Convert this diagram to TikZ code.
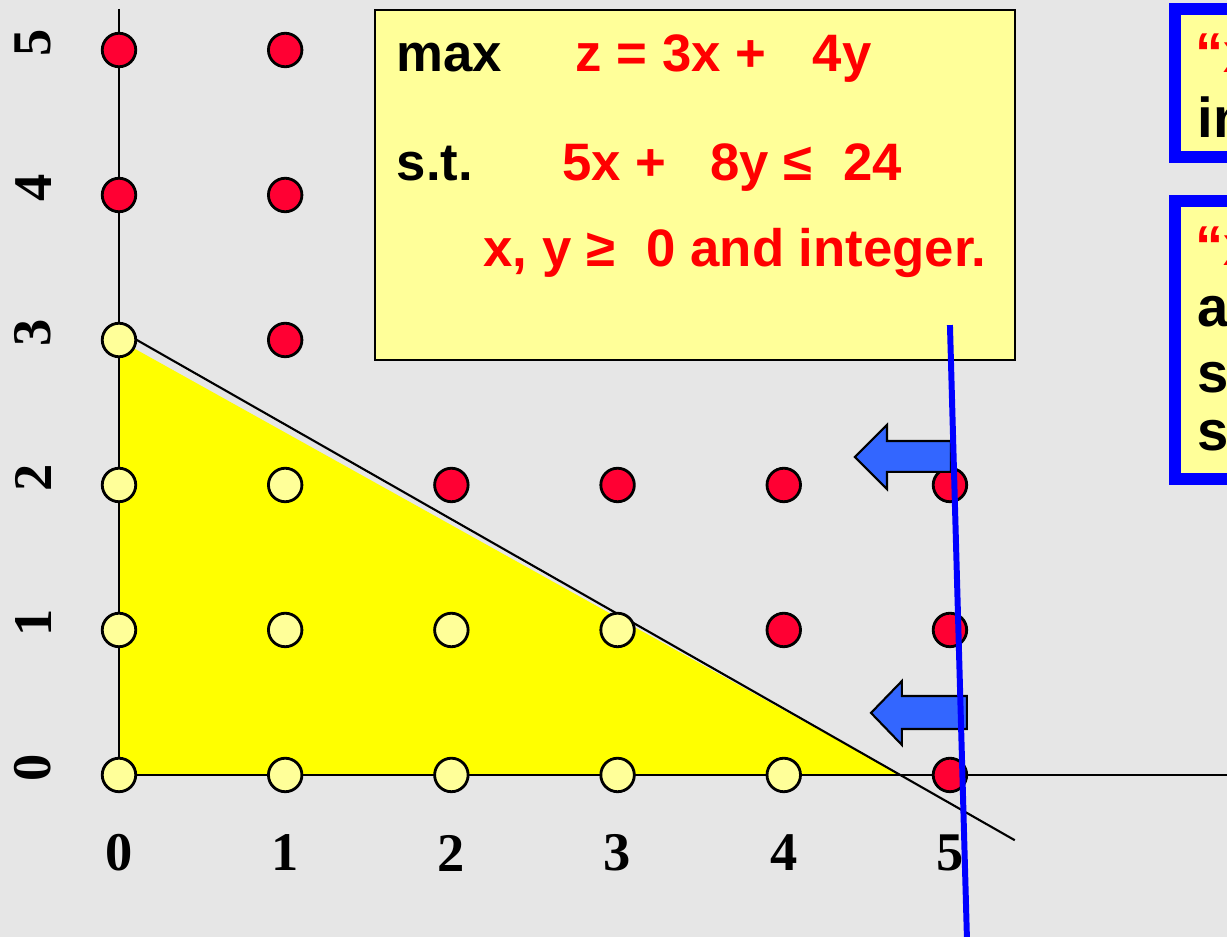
\documentclass[tikz,border=0pt]{standalone}
\usepackage{fontspec}
\setmainfont{Liberation Serif}
\newfontfamily\slidefont{Liberation Sans}
\usepackage{tikz}
\definecolor{SlideGray}{RGB}{230,230,230}
\definecolor{PaleYellow}{RGB}{255,255,153}
\definecolor{HullYellow}{RGB}{255,255,0}
\definecolor{DotRed}{RGB}{255,0,51}
\definecolor{PushBlue}{RGB}{51,102,255}
\tikzset{
  pt/.style={circle, draw=black, line width=0.8pt, fill=#1, minimum size=3.35mm, inner sep=0pt},
  ticklabel/.style={font=\bfseries\fontsize{15.5}{18}\selectfont, inner sep=0pt},
  lptext/.style={font=\slidefont\bfseries\fontsize{15}{18}\selectfont, anchor=base west, inner sep=0pt},
  notetext/.style={font=\slidefont\bfseries\fontsize{16}{19}\selectfont, anchor=base west, inner sep=0pt},
  pusharrow/.style={fill=PushBlue, draw=black, line width=0.6pt, line join=miter},
  notebox/.style={draw=blue, line width=1.2mm, fill=PaleYellow}
}

\begin{document}
\begin{tikzpicture}[x=1.662cm, y=1.45cm]
        \path[fill=SlideGray, use as bounding box] (-0.716,-1.117) rectangle (6.667,5.345);
        \clip (-0.716,-1.117) rectangle (6.667,5.345);
        % integer hull region and constraint 5x+8y<=24
        \fill[HullYellow] (0,0) -- (0,3) -- (4.70,0) -- cycle;
        \draw[line width=0.6pt] (0,5.283) -- (0,0) -- (7,0);
        \draw[line width=0.6pt] (0,3.07) -- (5.39,-0.45);
        % lattice points
        \foreach \i in {0,...,5}{
          \foreach \j in {0,...,5}{
            \pgfmathtruncatemacro{\lhs}{5*\i+8*\j}
            \ifnum\lhs<25 \def\ptfill{PaleYellow}\else\def\ptfill{DotRed}\fi
            \node[pt=\ptfill] (p\i\j) at (\i,\j) {};
          }
        }
        \foreach \i in {0,...,5}{
          \node[ticklabel] (xt\i) at (\i,-0.538) {\i};
          \node[ticklabel, rotate=90] (yt\i) at (-0.517,\i+0.05) {\i};
        }
        % the model
        \draw[fill=PaleYellow, line width=0.6pt] (1.54,2.862) rectangle (5.391,5.276);
        \node[lptext] (lpmax) at (1.667,4.855) {max};
        \node[lptext, red] (lpobj) at (2.744,4.855) {z = 3x +};
        \node[lptext, red] (lpobjy) at (4.170,4.855) {4y};
        \node[lptext] (lpst) at (1.667,4.103) {s.t.};
        \node[lptext, red] (lpcx) at (2.665,4.103) {5x +};
        \node[lptext, red] (lpcy) at (3.556,4.103) {8y ≤};
        \node[lptext, red] (lprhs) at (4.356,4.103) {24};
        \node[lptext, red] (lpsign) at (2.190,3.510) {x, y ≥};
        \node[lptext, red] (lpint) at (3.171,3.510) {0 and integer.};
        % push arrows
        \draw[pusharrow] (4.428,2.193) -- (4.621,2.414) -- (4.621,2.303) -- (5.006,2.303)
          -- (5.006,2.090) -- (4.621,2.090) -- (4.621,1.972) -- cycle;
        \draw[pusharrow] (4.525,0.428) -- (4.711,0.648) -- (4.711,0.545) -- (5.102,0.545)
          -- (5.102,0.317) -- (4.711,0.317) -- (4.711,0.207) -- cycle;
        % notes on the right
        \draw[notebox] (6.354,4.262) rectangle (7.3,5.283);
        \node[notetext, red] (noteAq) at (6.475,4.848) {“x};
        \node[notetext] (noteAb) at (6.486,4.400) {in};
        \draw[notebox] (6.354,2.041) rectangle (7.3,3.959);
        \node[notetext, red] (noteBq) at (6.475,3.517) {“x};
        \node[notetext] (noteBb) at (6.486,3.090) {a};
        \node[notetext] (noteBc) at (6.486,2.641) {se};
        \node[notetext] (noteBd) at (6.486,2.241) {so};
        % objective line
        \draw[blue, line width=1.7pt] (5.0,3.103) -- (5.104,-1.2);
      \end{tikzpicture}
\end{document}
